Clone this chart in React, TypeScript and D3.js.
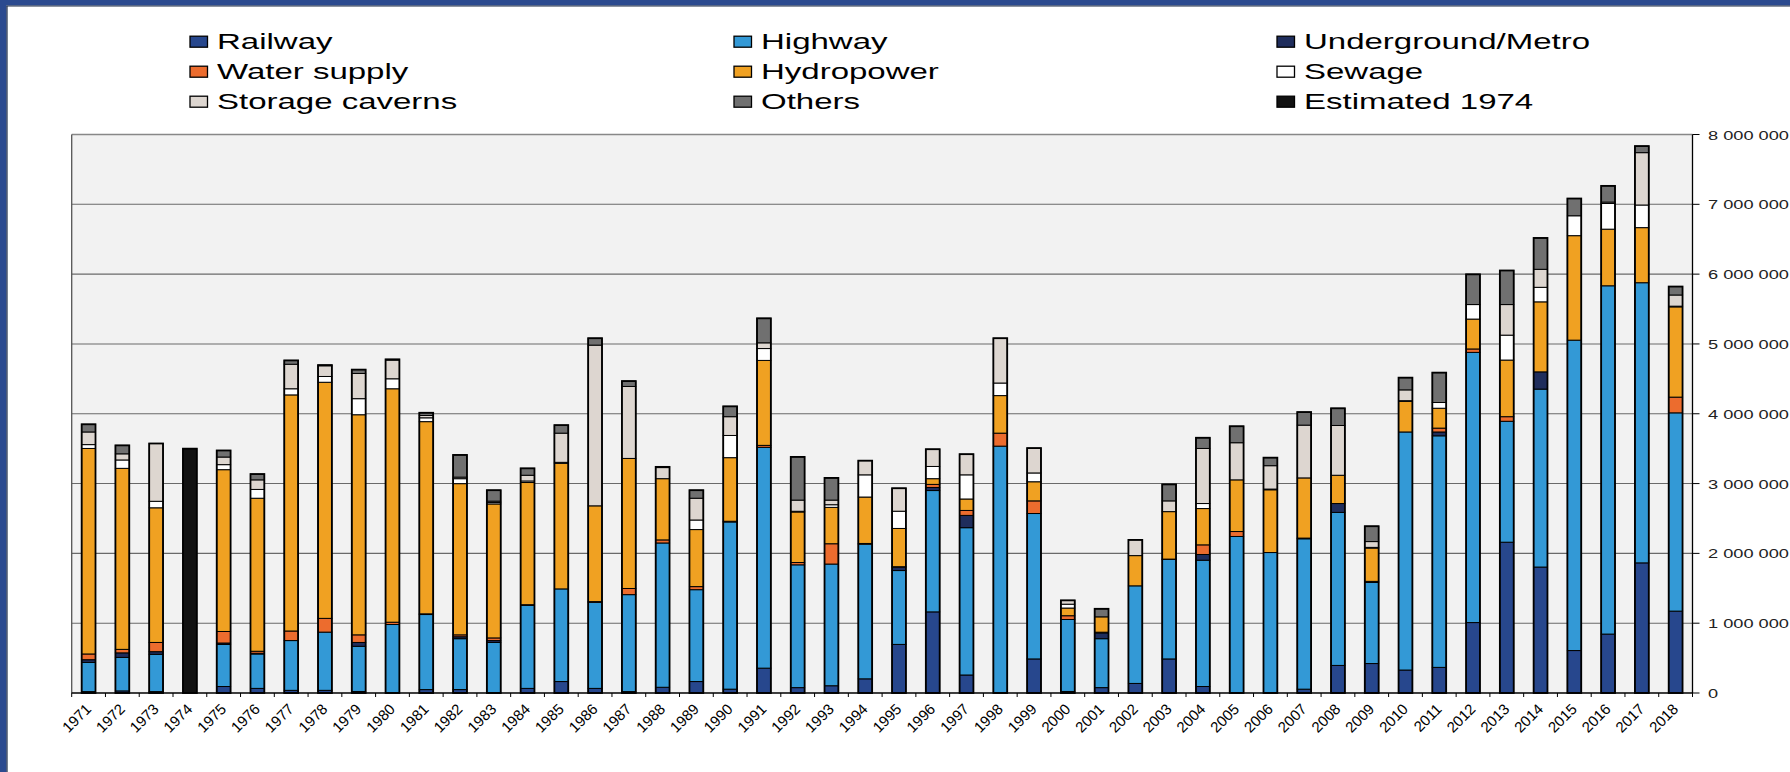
import React from 'react';
import * as d3 from 'd3';

const years = [
  '1971', '1972', '1973', '1974', '1975', '1976', '1977', '1978', '1979', '1980',
  '1981', '1982', '1983', '1984', '1985', '1986', '1987', '1988', '1989', '1990',
  '1991', '1992', '1993', '1994', '1995', '1996', '1997', '1998', '1999', '2000',
  '2001', '2002', '2003', '2004', '2005', '2006', '2007', '2008', '2009', '2010',
  '2011', '2012', '2013', '2014', '2015', '2016', '2017', '2018',
];

// values in thousands
const railway = [
  20, 30, 20, 0, 93, 66, 38, 38, 22, 0,
  49, 49, 5, 66, 164, 66, 20, 82, 164, 55,
  356, 77, 104, 203, 696, 1162, 258, 0, 488, 22,
  77, 137, 488, 93, 0, 0, 55, 395, 422, 329,
  367, 1009, 2160, 1804, 608, 844, 1864, 1173,
];
const highway = [
  418, 480, 534, 0, 603, 493, 713, 834, 647, 981,
  1075, 729, 719, 1189, 1327, 1233, 1389, 2067, 1316, 2395,
  3163, 1759, 1743, 1929, 1058, 1738, 2110, 3536, 2083, 1031,
  701, 1398, 1425, 1809, 2242, 2012, 2154, 2192, 1162, 3410,
  3317, 3870, 1732, 2549, 4446, 4989, 4013, 2840,
];
const underground = [
  39, 65, 38, 0, 20, 10, 0, 0, 55, 0,
  0, 28, 27, 0, 0, 0, 0, 0, 0, 0,
  0, 0, 0, 0, 50, 44, 176, 0, 0, 0,
  83, 0, 0, 82, 0, 0, 0, 127, 15, 0,
  55, 0, 0, 247, 0, 0, 0, 0,
];
const waterSupply = [
  82, 50, 132, 0, 165, 29, 137, 197, 109, 33,
  10, 27, 38, 10, 0, 10, 88, 44, 44, 10,
  28, 33, 291, 10, 5, 44, 71, 186, 181, 54,
  10, 0, 5, 138, 71, 0, 10, 0, 0, 0,
  55, 49, 66, 0, 0, 0, 0, 225,
];
const hydropower = [
  2944, 2593, 1929, 0, 2318, 2192, 3382, 3382, 3153, 3344,
  2753, 2166, 1919, 1750, 1798, 1372, 1863, 877, 817, 911,
  1217, 724, 521, 665, 548, 82, 164, 538, 274, 110,
  220, 433, 680, 520, 740, 899, 862, 405, 477, 438,
  285, 428, 811, 1003, 1497, 811, 789, 1293,
];
const sewage = [
  55, 120, 93, 0, 72, 126, 88, 83, 230, 143,
  55, 71, 20, 22, 15, 0, 0, 0, 137, 318,
  170, 10, 38, 318, 247, 175, 346, 180, 126, 55,
  0, 0, 0, 72, 0, 10, 0, 0, 10, 10,
  82, 208, 357, 208, 285, 368, 324, 10,
];
const storageCaverns = [
  181, 88, 828, 0, 109, 137, 351, 153, 361, 268,
  33, 22, 20, 82, 418, 2302, 1031, 159, 312, 269,
  82, 160, 66, 203, 329, 247, 296, 642, 356, 55,
  0, 225, 154, 789, 532, 335, 756, 713, 83, 155,
  0, 0, 438, 258, 0, 20, 750, 160,
];
const others = [
  110, 121, 0, 0, 94, 83, 55, 10, 55, 10,
  39, 318, 157, 99, 115, 99, 77, 10, 115, 148,
  351, 619, 318, 0, 0, 0, 0, 0, 0, 0,
  115, 0, 236, 153, 236, 115, 187, 246, 220, 175,
  428, 433, 488, 449, 247, 232, 94, 121,
];
const estimated1974 = [
  0, 0, 0, 3500, 0, 0, 0, 0, 0, 0,
  0, 0, 0, 0, 0, 0, 0, 0, 0, 0,
  0, 0, 0, 0, 0, 0, 0, 0, 0, 0,
  0, 0, 0, 0, 0, 0, 0, 0, 0, 0,
  0, 0, 0, 0, 0, 0, 0, 0,
];

const seriesNames = [
  'Railway', 'Highway', 'Underground/Metro',
  'Water supply', 'Hydropower', 'Sewage',
  'Storage caverns', 'Others', 'Estimated 1974',
];
const seriesValues = [
  railway, highway, underground, waterSupply, hydropower,
  sewage, storageCaverns, others, estimated1974,
];
const seriesColors = [
  '#27478d', '#3399d6', '#1f2d5c', '#ec6c2e', '#f0a122',
  '#ffffff', '#ddd6d0', '#707070', '#111111',
];

const yTicks = [0, 1000000, 2000000, 3000000, 4000000, 5000000, 6000000, 7000000, 8000000];
const yTickLabels = ['0', '1 000 000', '2 000 000', '3 000 000', '4 000 000',
  '5 000 000', '6 000 000', '7 000 000', '8 000 000'];

const FONT = '"Liberation Sans", Arial, sans-serif';
const SX = 1.5; // the original picture is stretched sideways

export default function App() {
  const W = 1790;
  const H = 772;
  const left = 71.7;
  const right = 1692.5;
  const top = 134.5;
  const bottom = 693;

  const x = d3.scaleBand<string>()
    .domain(years)
    .range([left, right])
    .paddingInner(0.59)
    .paddingOuter(0.295);
  const step = x.step();
  const y = d3.scaleLinear().domain([0, 8000000]).range([bottom, top]);

  const table = years.map((yr, i) => {
    const row: any = { year: yr };
    seriesNames.forEach((n, k) => { row[n] = seriesValues[k][i] * 1000; });
    return row;
  });
  const stacked = d3.stack<any>().keys(seriesNames)(table);
  const totals = table.map(r => d3.sum(seriesNames, n => r[n]));

  const legendX = [190, 734, 1277];
  const legendY = [41.7, 71.7, 101.7];

  return (
    <div style={{ position: 'absolute', left: 0, top: 0 }}>
      <svg width={W} height={H} style={{ display: 'block', background: '#fff' }}>
        {/* frame */}
        <rect x={0} y={0} width={W} height={5.5} fill="#2b4a8f" />
        <rect x={0} y={0} width={6.5} height={H} fill="#2b4a8f" />
        <line x1={6.5} x2={W} y1={6} y2={6} stroke="#1c2b45" strokeWidth={1.2} />
        <line x1={7} x2={7} y1={6} y2={H} stroke="#1c2b45" strokeWidth={1.2} />

        {/* legend */}
        {seriesNames.map((n, k) => {
          const col = k % 3;
          const row = Math.floor(k / 3);
          const cy = legendY[row];
          return (
            <g key={n}>
              <rect x={legendX[col]} y={cy - 5.5} width={17.5} height={11}
                fill={seriesColors[k]} stroke="#000" strokeWidth={1.3} />
              <text transform={`translate(${legendX[col] + 27},${cy + 7.3}) scale(${SX},1)`}
                fontFamily={FONT} fontSize={22} fill="#000">{n}</text>
            </g>
          );
        })}

        {/* plot area */}
        <rect x={left} y={top} width={right - left} height={bottom - top} fill="#f2f2f2" />
        {yTicks.slice(1, -1).map(t => (
          <line key={t} x1={left} x2={right} y1={y(t)} y2={y(t)} stroke="#6a6a6a" strokeWidth={1.1} />
        ))}
        <line x1={left} x2={right} y1={top} y2={top} stroke="#888" strokeWidth={1.3} />
        <line x1={left} x2={left} y1={top} y2={bottom} stroke="#555" strokeWidth={1.3} />

        {/* bars */}
        {years.map((yr, i) => (
          <g key={yr}>
            {stacked.map((s, k) => {
              const d = s[i];
              if (d[1] - d[0] <= 0) return null;
              return (
                <rect key={k} x={x(yr)} width={x.bandwidth()}
                  y={y(d[1])} height={y(d[0]) - y(d[1])}
                  fill={seriesColors[k]} stroke="#000" strokeWidth={1} />
              );
            })}
            <rect x={x(yr)} width={x.bandwidth()} y={y(totals[i])}
              height={y(0) - y(totals[i])} fill="none" stroke="#000" strokeWidth={1.8} />
          </g>
        ))}

        {/* axes */}
        <line x1={left} x2={right} y1={bottom} y2={bottom} stroke="#000" strokeWidth={1.3} />
        {years.map((yr, i) => (
          <line key={yr} x1={left + i * step} x2={left + i * step} y1={bottom} y2={bottom + 4}
            stroke="#000" strokeWidth={1} />
        ))}
        <line x1={right} x2={right} y1={bottom} y2={bottom + 4} stroke="#000" strokeWidth={1} />
        <line x1={right} x2={right} y1={top} y2={bottom} stroke="#000" strokeWidth={1.3} />
        {yTicks.map((t, i) => (
          <g key={t}>
            <line x1={right} x2={right + 7} y1={y(t)} y2={y(t)} stroke="#000" strokeWidth={1} />
            <text transform={`translate(1708,${y(t) + 5}) scale(1.35,1)`}
              fontFamily={FONT} fontSize={13.5} fill="#222">{yTickLabels[i]}</text>
          </g>
        ))}
        {years.map(yr => {
          const cx = (x(yr) as number) + x.bandwidth() / 2;
          return (
            <text key={yr} transform={`translate(${cx + 3.5},710) rotate(-45)`}
              textAnchor="end" fontFamily={FONT} fontSize={15} fill="#000">{yr}</text>
          );
        })}
      </svg>
    </div>
  );
}
